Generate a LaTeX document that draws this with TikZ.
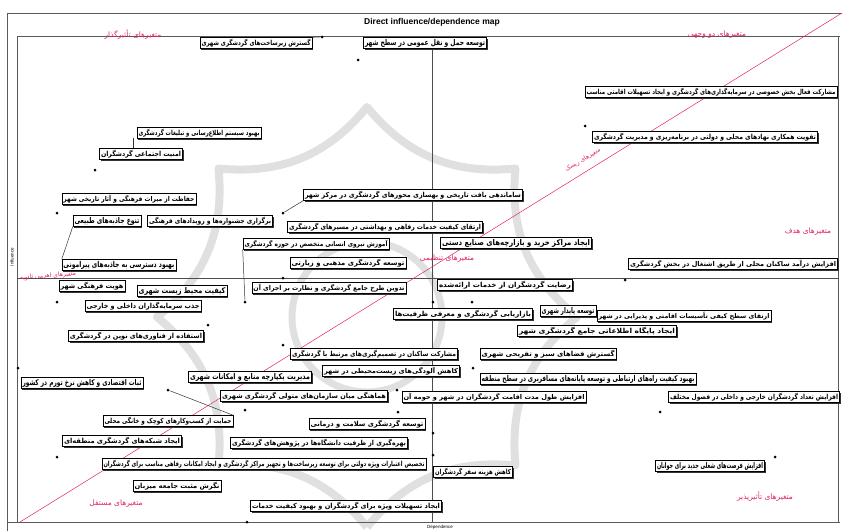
\documentclass[tikz,border=0pt]{standalone}
\usepackage{fontspec}
\usepackage{graphicx}
\usetikzlibrary{shadows}
\newfontfamily\arabicfont[Script=Arabic]{DejaVu Sans}
\newfontfamily\arabicbold[Script=Arabic]{DejaVu Sans Bold}
\newfontfamily\latinsans{Liberation Sans}
\TeXXeTstate=1
\newcommand{\bt}[2]{\resizebox*{#1pt}{8pt}{\arabicbold #2}}
\definecolor{mred}{RGB}{225,35,95}
\newcommand{\vb}[5]{\node[vbox] (#1) at (#2,#3) {\bt{#4}{#5}};}
\begin{document}
\begin{tikzpicture}[x=1pt,y=-1pt,
  vbox/.style={draw=black,line width=0.6pt,fill=white,inner xsep=1.5pt,inner ysep=1.4pt,
    drop shadow={shadow xshift=1.4pt,shadow yshift=-1.4pt,fill=black!80,opacity=1}},
  vdot/.style={circle,fill=black,inner sep=0pt,minimum size=3pt},
  qlab/.style={text=mred,font=\arabicfont\fontsize{7.5}{8}\selectfont,inner sep=0.5pt},
  frameline/.style={draw=black!65,line width=0.8pt},
  axisline/.style={draw=black!70,line width=0.6pt},
  leader/.style={draw=black!80,line width=0.5pt},
  wm/.style={draw=black!12,line width=8pt,line join=round}]
\useasboundingbox (0,0) rectangle (845,531);
% watermark (faint emblem)
\begin{scope}[shift={(367,317)}]
\foreach \k in {0,...,7}{
  \coordinate (wp\k) at ({90+\k*45}:210);
}
\draw[wm] (wp0) to[bend right=28] (wp1) to[bend right=28] (wp2) to[bend right=28] (wp3)
  to[bend right=28] (wp4) to[bend right=28] (wp5) to[bend right=28] (wp6)
  to[bend right=28] (wp7) to[bend right=28] (wp0);
\draw[wm,line width=7pt] (0,0) circle[radius=75];
\end{scope}
% frames
\draw[frameline] (7,531) -- (7,13) -- (842,13);
\draw[frameline] (17,522) -- (17,36) -- (840,36);
\draw[frameline] (7,522) -- (840,522);
\draw[frameline] (838,36) -- (838,522);
\node[font=\latinsans\bfseries\fontsize{8.5}{10}\selectfont,inner sep=0] (title) at (432,22) {Direct influence/dependence map};
\node[font=\latinsans\fontsize{4.5}{5}\selectfont,rotate=90,inner sep=0] (ylab) at (12,257) {Influence};
\node[font=\latinsans\fontsize{4.5}{5}\selectfont,inner sep=0] (xlab) at (440,527) {Dependence};
% axes
\coordinate (vt) at (432,36); \coordinate (vb) at (432,522);
\coordinate (hl) at (17,278); \coordinate (hr) at (838,278);
\draw[axisline] (vt) -- (vb);
\draw[axisline] (hl) -- (hr);
% diagonal
\coordinate (dg1) at (20,522); \coordinate (dg2) at (842,13);
\draw[mred,line width=0.5pt] (dg1) -- (dg2);
% quadrant labels
\node[qlab] (q1) at (133,35) {\beginR متغیرهای تأثیرگذار\endR};
\node[qlab] (q2) at (717,35) {\beginR متغیرهای دو وجهی\endR};
\node[qlab] (q3) at (808,232) {\beginR متغیرهای هدف\endR};
\node[qlab] (q4) at (765,497) {\beginR متغیرهای تأثیرپذیر\endR};
\node[qlab] (q5) at (116,504) {\beginR متغیرهای مستقل\endR};
\node[qlab] (q6) at (447,259) {\beginR متغیرهای تنظیمی\endR};
\node[qlab,rotate=31,font=\arabicfont\fontsize{6}{6.5}\selectfont] (q7) at (583,160) {\beginR متغیرهای ریسک\endR};
\node[qlab,rotate=4,font=\arabicfont\fontsize{6}{7}\selectfont] (q8) at (48,276) {\beginR متغیرهای اهرمی ثانویه\endR};
% boxes
\vb{A}{256}{43}{109}{\beginR گسترش زیرساخت‌های گردشگری شهری\endR}
\vb{B}{425}{43}{120}{\beginR توسعه حمل و نقل عمومی در سطح شهر\endR}
\vb{E}{711}{92}{249}{\beginR مشارکت فعال بخش خصوصی در سرمایه‌گذاری‌های گردشگری و ایجاد تسهیلات اقامتی مناسب\endR}
\vb{F}{705}{137}{222}{\beginR تقویت همکاری نهادهای محلی و دولتی در برنامه‌ریزی و مدیریت گردشگری\endR}
\vb{C}{199}{133}{121}{\beginR بهبود سیستم اطلاع‌رسانی و تبلیغات گردشگری\endR}
\vb{D}{141}{154}{80}{\beginR امنیت اجتماعی گردشگران\endR}
\vb{G}{129}{199}{131}{\beginR حفاظت از میراث فرهنگی و آثار تاریخی شهر\endR}
\vb{H}{107}{221}{65}{\beginR تنوع جاذبه‌های طبیعی\endR}
\vb{I}{210}{221}{122}{\beginR برگزاری جشنواره‌ها و رویدادهای فرهنگی\endR}
\vb{J}{413}{195}{216}{\beginR ساماندهی بافت تاریخی و بهسازی محورهای گردشگری در مرکز شهر\endR}
\vb{K}{385}{227}{192}{\beginR ارتقای کیفیت خدمات رفاهی و بهداشتی در مسیرهای گردشگری\endR}
\vb{L}{316}{244}{143}{\beginR آموزش نیروی انسانی متخصص در حوزه گردشگری\endR}
\vb{M}{516}{243}{148}{\beginR ایجاد مراکز خرید و بازارچه‌های صنایع دستی\endR}
\vb{N}{348}{263}{113}{\beginR توسعه گردشگری مذهبی و زیارتی\endR}
\vb{O}{119}{265}{111}{\beginR بهبود دسترسی به جاذبه‌های پیرامونی\endR}
\vb{V}{733}{264}{206}{\beginR افزایش درآمد ساکنان محلی از طریق اشتغال در بخش گردشگری\endR}
\vb{P}{92}{286}{63}{\beginR هویت فرهنگی شهر\endR}
\vb{Q}{182}{291}{87}{\beginR کیفیت محیط زیست شهری\endR}
\vb{S}{329}{288}{151}{\beginR تدوین طرح جامع گردشگری و نظارت بر اجرای آن\endR}
\vb{W}{505}{285}{132}{\beginR رضایت گردشگران از خدمات ارائه‌شده\endR}
\vb{R}{143}{306}{113}{\beginR جذب سرمایه‌گذاران داخلی و خارجی\endR}
\vb{X}{463}{314}{136}{\beginR بازاریابی گردشگری و معرفی ظرفیت‌ها\endR}
\vb{Z}{684}{316}{171}{\beginR ارتقای سطح کیفی تأسیسات اقامتی و پذیرایی در شهر\endR}
\vb{Y}{568}{311}{53}{\beginR توسعه پایدار شهری\endR}
\vb{AA}{597}{331}{156}{\beginR ایجاد پایگاه اطلاعاتی جامع گردشگری شهر\endR}
\vb{T}{136}{336}{132}{\beginR استفاده از فناوری‌های نوین در گردشگری\endR}
\vb{AB}{374}{354}{164}{\beginR مشارکت ساکنان در تصمیم‌گیری‌های مرتبط با گردشگری\endR}
\vb{AC}{548}{354}{133}{\beginR گسترش فضاهای سبز و تفریحی شهری\endR}
\vb{AD}{391}{371}{134}{\beginR کاهش آلودگی‌های زیست‌محیطی در شهر\endR}
\vb{AE}{250}{377}{120}{\beginR مدیریت یکپارچه منابع و امکانات شهری\endR}
\vb{AI}{588}{379}{213}{\beginR بهبود کیفیت راه‌های ارتباطی و توسعه پایانه‌های مسافربری در سطح منطقه\endR}
\vb{AF}{82}{383}{119}{\beginR ثبات اقتصادی و کاهش نرخ تورم در کشور\endR}
\vb{AG}{304}{396}{164}{\beginR هماهنگی میان سازمان‌های متولی گردشگری شهری\endR}
\vb{AH}{494}{397}{181}{\beginR افزایش طول مدت اقامت گردشگران در شهر و حومه آن\endR}
\vb{AJ}{754}{397}{168}{\beginR افزایش تعداد گردشگران خارجی و داخلی در فصول مختلف\endR}
\vb{AK}{168}{421}{127}{\beginR حمایت از کسب‌وکارهای کوچک و خانگی محلی\endR}
\vb{AM}{367}{424}{113}{\beginR توسعه گردشگری سلامت و درمانی\endR}
\vb{AL}{122}{441}{116}{\beginR ایجاد شبکه‌های گردشگری منطقه‌ای\endR}
\vb{AN}{319}{443}{174}{\beginR بهره‌گیری از ظرفیت دانشگاه‌ها در پژوهش‌های گردشگری\endR}
\vb{AO}{264}{464}{321}{\beginR تخصیص اعتبارات ویژه دولتی برای توسعه زیرساخت‌ها و تجهیز مراکز گردشگری و ایجاد امکانات رفاهی مناسب برای گردشگران\endR}
\vb{AS}{473}{472}{76}{\beginR کاهش هزینه سفر گردشگران\endR}
\vb{AR}{710}{466}{106}{\beginR افزایش فرصت‌های شغلی جدید برای جوانان\endR}
\vb{AP}{177}{486}{85}{\beginR نگرش مثبت جامعه میزبان\endR}
\vb{AQ}{346}{506}{188}{\beginR ایجاد تسهیلات ویژه برای گردشگران و بهبود کیفیت خدمات\endR}
% dots
\foreach \n/\x/\y in {d1/322/37,d2/358/60,d3/95/170,d4/57/213,d5/283/213,d6/585/126,
  d7/57/302,d8/208/325,d9/245/302,d10/283/278,d11/625/280,d12/472/302,d13/433/302,
  d14/283/345,d15/18/368,d16/473/368,d17/168/390,d18/245/410,d19/397/390,d20/398/412,
  d21/660/412,d22/57/457,d23/433/433,d24/433/455,d25/775/457,d26/247/522}
  {\node[vdot] (\n) at (\x,\y) {};}
% leaders
\coordinate (cd1) at (133,138);
\coordinate (cd2) at (133,148);
\draw[leader] (cd1) -- (cd2);
\draw[leader] (H.south west) -- (O.north west);
\draw[leader] (d5) -- (J.south west);
\draw[leader] (d9) -- (L.south west);
\draw[leader] (d17) -- (AK.north east);
\draw[leader] (d1) -- (A.north east);
\end{tikzpicture}
\end{document}
